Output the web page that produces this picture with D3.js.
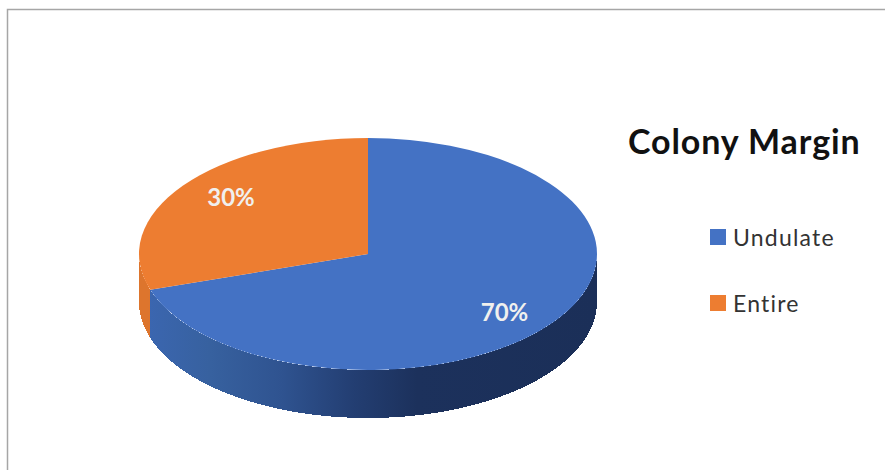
<!DOCTYPE html>
<html>
<head>
<meta charset="utf-8">
<style>
html, body { margin: 0; padding: 0; background: #fff; }
svg { display: block; }
text { font-family: Lato, "Open Sans", sans-serif; }
</style>
<script src="https://cdnjs.cloudflare.com/ajax/libs/d3/7.8.5/d3.min.js"></script>
</head>
<body>
<svg id="chart" width="885" height="470"></svg>
<script>
const categories = ["Undulate", "Entire"];
const shares = [70, 30];
const sliceColors = ["#4472c4", "#ed7d31"];
const chartTitle = "Colony Margin";

const svg = d3.select("#chart");
const defs = svg.append("defs");

// Chart frame: only the top and left rules are visible
svg.append("path")
  .attr("d", "M7.5,470V9.5H885")
  .attr("fill", "none")
  .attr("stroke", "#a6a6a6")
  .attr("stroke-width", 1.5);

// Tilted disc geometry
const cx = 368, cy = 254, rx = 229, ry = 116, depth = 48;

const pie = d3.pie().sort(null).value(d => d);
const slices = pie(shares);

const rimX = a => cx + rx * Math.sin(a);
const rimY = a => cy - ry * Math.cos(a);

// Side wall of the disc is visible between 90 and 270 degrees (clockwise from 12 o'clock)
const frontStart = Math.PI / 2, frontEnd = Math.PI * 1.5;

function wallPath(a0, a1) {
  const p = d3.path();
  const step = (a1 - a0) / 120;
  p.moveTo(rimX(a0), rimY(a0));
  d3.range(1, 121).forEach(i => p.lineTo(rimX(a0 + step * i), rimY(a0 + step * i)));
  d3.range(120, -1, -1).forEach(i => p.lineTo(rimX(a0 + step * i), rimY(a0 + step * i) + depth));
  p.closePath();
  return p.toString();
}

// Horizontal shading across the blue wall, darkest toward the right
const shade = defs.append("linearGradient")
  .attr("id", "wallShade")
  .attr("gradientUnits", "userSpaceOnUse")
  .attr("x1", 147).attr("x2", 597).attr("y1", 0).attr("y2", 0);
[[0, "#3b66b0"], [0.14, "#37619f"], [0.3, "#2f5390"], [0.46, "#233e72"], [0.6, "#1c315c"], [1, "#1b2f58"]]
  .forEach(([o, c]) => shade.append("stop").attr("offset", o).attr("stop-color", c));

const wallColors = ["url(#wallShade)", "#dd752d"];

const walls = svg.append("g").attr("shape-rendering", "crispEdges");
slices.forEach((s, i) => {
  const a0 = Math.max(s.startAngle, frontStart);
  const a1 = Math.min(s.endAngle, frontEnd);
  if (a1 > a0) walls.append("path").attr("d", wallPath(a0, a1)).attr("fill", wallColors[i]);
});

// Top face: a regular pie arc squashed vertically
const arc = d3.arc().innerRadius(0).outerRadius(rx);
svg.append("g")
  .attr("transform", `translate(${cx},${cy}) scale(1,${ry / rx})`)
  .selectAll("path")
  .data(slices)
  .join("path")
  .attr("d", arc)
  .attr("fill", (d, i) => sliceColors[i]);

// Percentage labels on the top face
const labelAt = [[504.5, 312.5], [231, 198]];
svg.append("g")
  .selectAll("text")
  .data(shares)
  .join("text")
  .attr("x", (d, i) => labelAt[i][0])
  .attr("y", (d, i) => labelAt[i][1])
  .attr("dy", "0.35em")
  .attr("text-anchor", "middle")
  .attr("font-size", 24)
  .attr("font-weight", 700)
  .attr("fill", "#f0f0ee")
  .text(d => d + "%");

// Title
svg.append("text")
  .attr("x", 628).attr("y", 154)
  .attr("font-size", 34)
  .attr("font-weight", 700)
  .attr("letter-spacing", 0.9)
  .attr("fill", "#111")
  .text(chartTitle);

// Legend
const legendY = d3.scalePoint().domain(categories).range([245, 311]);
const legend = svg.append("g")
  .selectAll("g")
  .data(categories)
  .join("g")
  .attr("transform", d => `translate(710,${legendY(d)})`);
legend.append("rect")
  .attr("x", 0).attr("y", -16)
  .attr("width", 16).attr("height", 16)
  .attr("fill", (d, i) => sliceColors[i]);
legend.append("text")
  .attr("x", 23).attr("y", 0.5)
  .attr("font-size", 23)
  .attr("letter-spacing", 1.2)
  .attr("fill", "#333")
  .text(d => d);
</script>
</body>
</html>
